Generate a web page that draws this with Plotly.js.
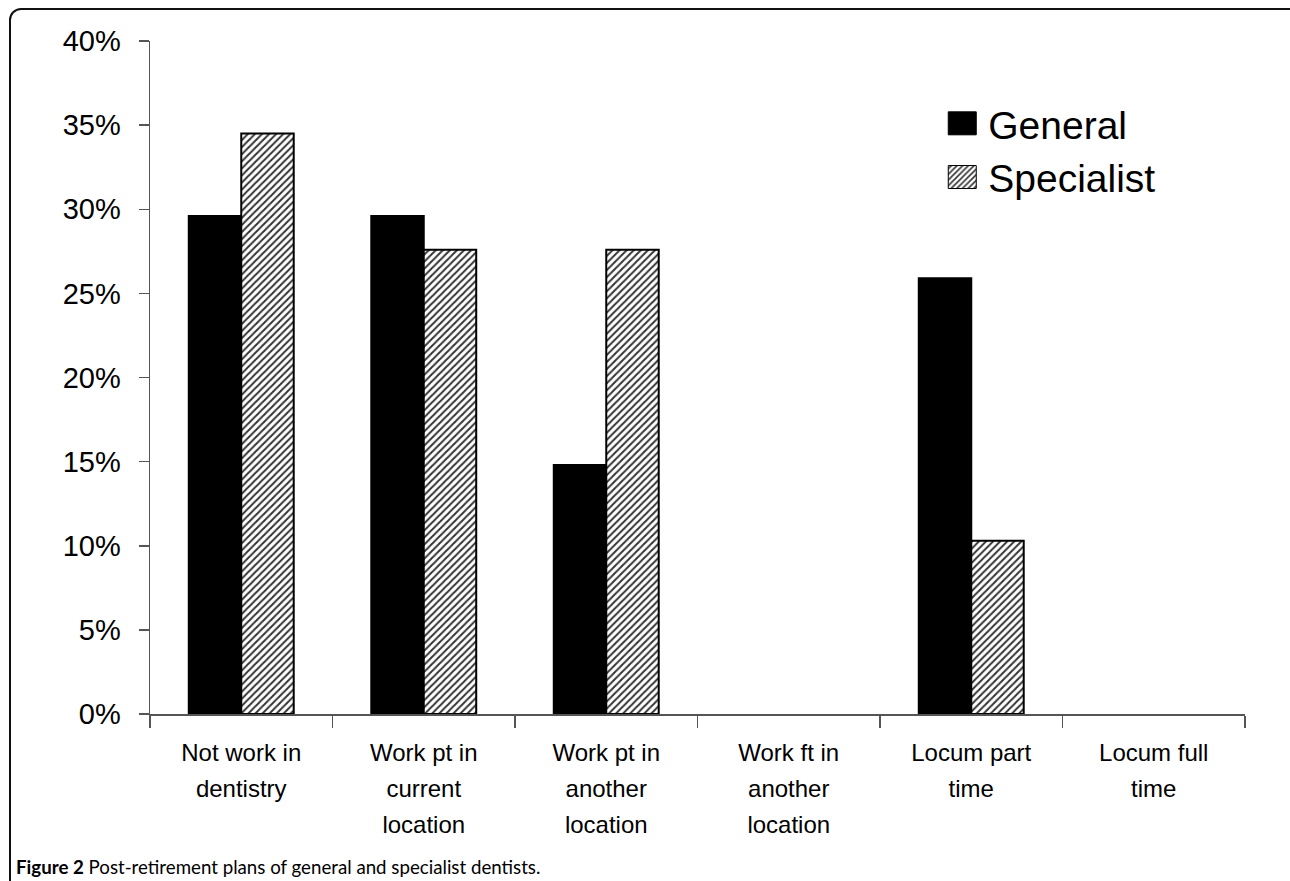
<!DOCTYPE html>
<html>
<head>
<meta charset="utf-8">
<script src="https://cdn.plot.ly/plotly-3.0.1.min.js"></script>
<style>
  html, body { margin: 0; padding: 0; width: 1290px; height: 881px; overflow: hidden; background: #fff; }
  #frame { position: absolute; left: 9px; top: 8px; width: 1300px; height: 900px;
           border: 2px solid #111; border-radius: 12px; box-sizing: border-box; pointer-events: none; }
  #chart { position: absolute; left: 0; top: 0; width: 1290px; height: 881px; }
</style>
</head>
<body>
<div id="chart"></div>
<div id="frame"></div>
<script>
const categories = [
  "Not work in<br>dentistry",
  "Work pt in<br>current<br>location",
  "Work pt in<br>another<br>location",
  "Work ft in<br>another<br>location",
  "Locum part<br>time",
  "Locum full<br>time"
];
const generalValues = [29.6, 29.6, 14.8, 0, 25.9, 0];
const specialistValues = [34.5, 27.6, 27.6, 0, 10.3, 0];
const yTickValues = [0, 5, 10, 15, 20, 25, 30, 35, 40];
const yTickLabels = ["0%", "5%", "10%", "15%", "20%", "25%", "30%", "35%", "40%"];

const FONT = "Liberation Sans, Arial, Helvetica, sans-serif";

const traces = [
  {
    type: "bar", name: "General", x: categories, y: generalValues,
    marker: { color: "#000", line: { color: "#000", width: generalValues.map(v => v > 0 ? 2 : 0) } },
    hoverinfo: "skip"
  },
  {
    type: "bar", name: "Specialist", x: categories, y: specialistValues,
    marker: {
      color: "#fff",
      line: { color: "#000", width: specialistValues.map(v => v > 0 ? 2 : 0) },
      pattern: { shape: "/", fgcolor: "#333", bgcolor: "#fff", size: 5, solidity: 0.4 }
    },
    hoverinfo: "skip"
  }
];

const layout = {
  width: 1290, height: 881,
  margin: { l: 150, r: 45, t: 41, b: 167 },
  paper_bgcolor: "rgba(0,0,0,0)", plot_bgcolor: "rgba(0,0,0,0)",
  font: { family: FONT, color: "#000" },
  bargap: 0.425, bargroupgap: 0,
  showlegend: true,
  legend: {
    x: 0.729, y: 0.925, xanchor: "left", yanchor: "top",
    font: { size: 39, family: FONT, color: "#000" },
    bgcolor: "rgba(0,0,0,0)", borderwidth: 0, tracegroupgap: 0
  },
  xaxis: {
    type: "category",
    showline: true, linecolor: "#555", linewidth: 1.5,
    ticks: "outside", tickson: "boundaries", ticklen: 12, tickcolor: "#555", tickwidth: 1.5,
    tickfont: { size: 24, family: FONT, color: "#000" },
    ticklabelstandoff: 17,
    showgrid: false, zeroline: false, fixedrange: true
  },
  yaxis: {
    range: [0, 40],
    tickvals: yTickValues, ticktext: yTickLabels,
    showline: true, linecolor: "#555", linewidth: 1.5,
    ticks: "outside", ticklen: 10, tickcolor: "#555", tickwidth: 1.5,
    tickfont: { size: 29, family: FONT, color: "#000" },
    ticklabelstandoff: 12,
    showgrid: false, zeroline: false, fixedrange: true
  },
  annotations: [
    {
      xref: "paper", yref: "paper", x: -0.1242, y: -0.2273,
      xanchor: "left", yanchor: "middle", showarrow: false,
      text: "<b>Figure 2</b> Post-retirement plans of general and specialist dentists.",
      font: { size: 18.7, family: "Lato, Liberation Sans, sans-serif", color: "#000" }
    }
  ]
};

Plotly.newPlot("chart", traces, layout, { staticPlot: true, displayModeBar: false }).then(function () {
  // wider line spacing for category labels (scale existing offsets)
  document.querySelectorAll("#chart .xtick text tspan.line").forEach(function (t) {
    var dy = t.getAttribute("dy");
    if (dy && /em$/.test(dy)) {
      var v = parseFloat(dy);
      if (!isNaN(v) && v !== 0) t.setAttribute("dy", (v * 1.5 / 1.3) + "em");
    }
  });
  // bigger legend swatches placed left of the text
  document.querySelectorAll("#chart .legend [clip-path]").forEach(function (e) { e.removeAttribute("clip-path"); });
  document.querySelectorAll("#chart .legend .traces").forEach(function (g) {
    var p = g.querySelector(".legendpoints path");
    var txt = g.querySelector("text");
    if (!p || !txt) return;
    var tx = parseFloat(txt.getAttribute("x")) || 40;
    var ctm = p.getCTM(), tctm = txt.getCTM();
    var offset = (tctm.e - ctm.e);
    var w = 28, h = 23;
    var right = offset + tx - 12;
    var left = right - w;
    p.setAttribute("d", "M" + left + "," + (h / 2) + "H" + right + "V" + (-h / 2) + "H" + left + "Z");
    p.style.strokeWidth = "1px";
  });
});
</script>
</body>
</html>
